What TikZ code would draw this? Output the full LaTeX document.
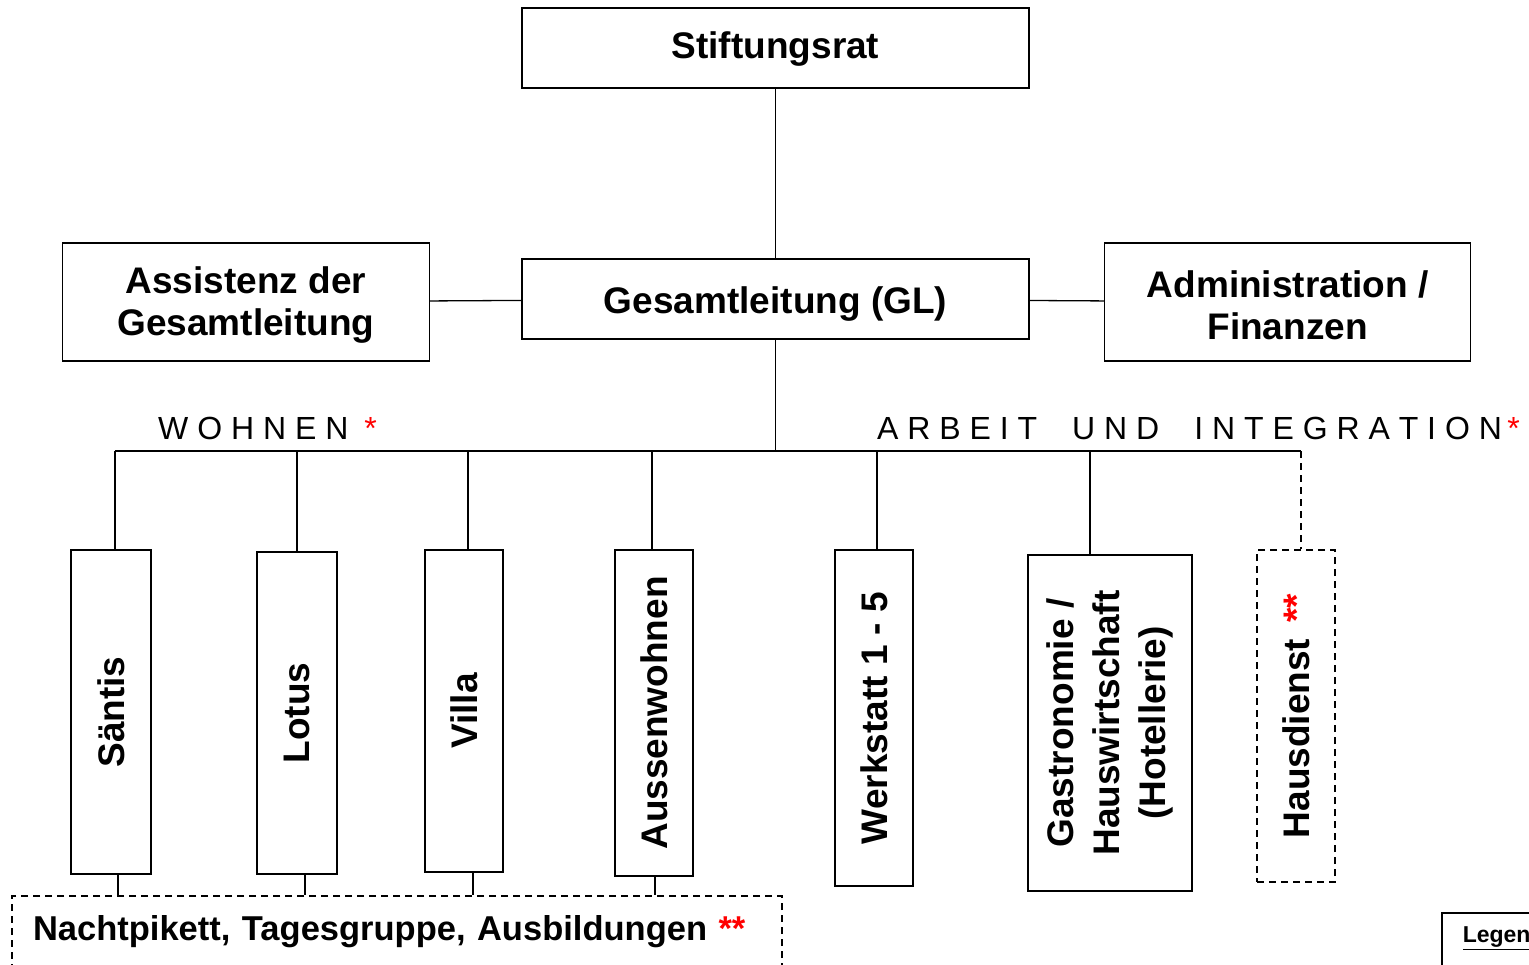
\documentclass[tikz,border=0pt]{standalone}
\usepackage{fontspec}
\setmainfont{Liberation Sans}
\usepackage{graphicx}
\usetikzlibrary{positioning,graphs}
\tikzstyle{unit}=[draw, line width=1.6pt, inner sep=0pt, align=center, font=\bfseries\fontsize{37}{42}\selectfont]
\tikzstyle{loose}=[dash pattern=on 7pt off 5pt]
\tikzstyle{link}=[line width=1.3pt]
\tikzstyle{bereich}=[inner sep=0pt, anchor=west, font=\fontsize{32}{38}\selectfont]
\newcommand{\stern}[1]{\textcolor{red}{#1}}
\newcommand{\hochkant}[1]{\rotatebox{90}{#1}}

\begin{document}
\begin{tikzpicture}[x=1pt, y=-1pt, new set=import nodes]
 \useasboundingbox (0,0) rectangle (1529,965);
 \clip (0,0) rectangle (1529,965);
 \begin{scope}[nodes={set=import nodes}]
      \node (stift)[unit, minimum width=507pt, minimum height=80pt, text height=30pt, text depth=8pt] at (775.5,48) {Stiftungsrat};
      \node (gl)[unit, minimum width=507pt, minimum height=80pt, text height=38pt, text depth=8pt] at (775.5,299) {Gesamtleitung (GL)};
      \node [unit, left=91pt of gl, yshift=-3pt, minimum width=367pt, minimum height=118pt] (assist) {\rule{0pt}{33pt}Assistenz der\\Gesamtleitung};
      \node [unit, right=74pt of gl, yshift=-3pt, minimum width=366pt, minimum height=118pt] (admin) {\rule{0pt}{33pt}Administration /\\Finanzen};
 \end{scope}

 \begin{scope}[link]
 \graph {
    (import nodes);
    stift -- gl,
    assist -- gl -- admin
    };
 \end{scope}

 % Bereiche
 \node (wohnen)[bereich] at (158,428) {W O H N E N\hspace{16pt}\stern{*}};
 \node (arbeit)[bereich] at (877,428) {A R B E I T\hspace{35pt}U N D\hspace{35pt}I N T E G R A T I O N\,\stern{*}};
 \coordinate (busL) at (115,451);
 \coordinate (busR) at (1301,451);

 % Wohngruppen
 \node (santis)[unit, minimum width=80pt, minimum height=324pt] at (111,712) {\hochkant{Säntis}};
 \node (lotus)[unit, minimum width=80pt, minimum height=322pt] at (297,713) {\hochkant{Lotus}};
 \node (villa)[unit, minimum width=78pt, minimum height=322pt] at (464,711) {\hochkant{Villa}};
 \node (aussen)[unit, minimum width=78pt, minimum height=326pt] at (654,713) {\hochkant{Aussenwohnen}};
 % Arbeit
 \node (werk)[unit, minimum width=78pt, minimum height=336pt] at (874,718) {\hochkant{Werkstatt 1 - 5}};
 \node (gastro)[unit, minimum width=164pt, minimum height=336pt, font=\bfseries\fontsize{37}{46}\selectfont] at (1110,723) {\hochkant{\begin{tabular}{@{}c@{}}Gastronomie /\\Hauswirtschaft\\(Hotellerie)\end{tabular}}};
 \node (haus)[unit, loose, minimum width=78pt, minimum height=332pt] at (1296,716) {\hochkant{Hausdienst\hspace{16pt}\stern{**}}};

 \node (nacht)[unit, loose, minimum width=770pt, minimum height=72pt, text width=728pt, align=left, font=\bfseries\fontsize{34.5}{40}\selectfont] at (397,932) {Nachtpikett, Tagesgruppe, Ausbildungen \stern{**}};
 \node (legende)[unit, anchor=north west, inner xsep=21pt, inner ysep=13pt, text depth=40pt, align=left, font=\bfseries\fontsize{23}{28}\selectfont] at (1441,912) {\underline{Legende}};

 \draw[link] (gl) -- (gl |- busL);
 \draw[link] (busL) -- (busR);
 \foreach \n/\dx in {santis/4,lotus/0,villa/4,aussen/-2,werk/3,gastro/-20}
   \draw[link] ([xshift=\dx pt]\n.north) -- ([xshift=\dx pt]\n.north |- busL);
 \draw[link, loose] (busR) -- (busR |- haus.north);
 \foreach \n/\dx in {santis/7,lotus/8,villa/9,aussen/1}
   \draw[link] ([xshift=\dx pt]\n.south) -- ([xshift=\dx pt]\n.south |- nacht.north);
\end{tikzpicture}
\end{document}
